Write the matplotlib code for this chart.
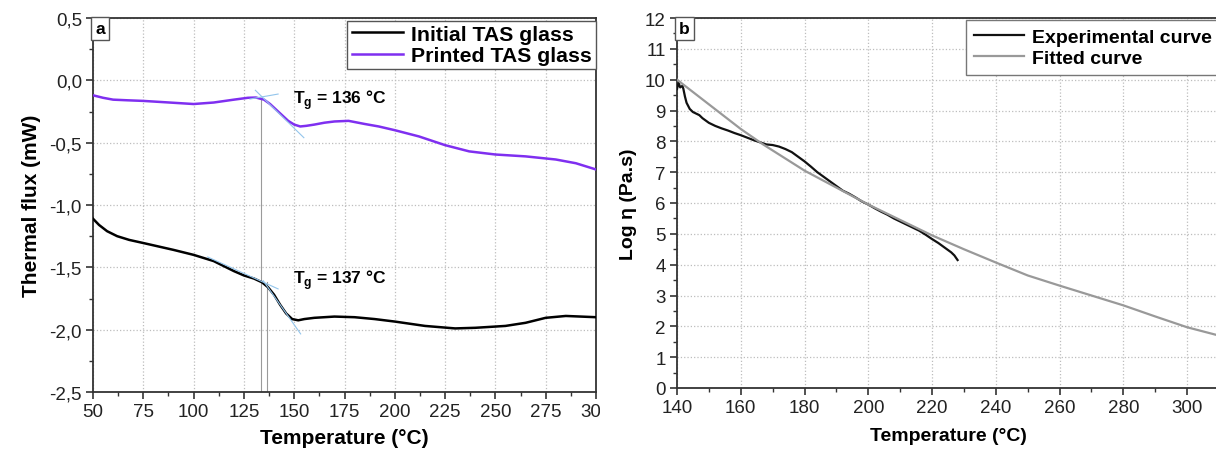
import numpy as np
import matplotlib
matplotlib.use("Agg")
from matplotlib import pyplot as plt
from matplotlib.ticker import MultipleLocator, FuncFormatter
from matplotlib.transforms import Bbox, TransformedBbox

plt.rcParams['font.family'] = ['Liberation Sans', 'DejaVu Sans']
plt.rcParams['mathtext.fontset'] = 'custom'
plt.rcParams['mathtext.rm'] = 'Liberation Sans'
plt.rcParams['mathtext.bf'] = 'Liberation Sans:bold'

# panel a: DSC curves
t_printed = [50, 55, 60, 67, 75, 90, 100, 110, 120, 127, 131, 135, 138, 141, 144, 147,
             150, 153, 156, 160, 165, 170, 177, 185, 192, 200, 212, 225, 237, 250, 265,
             280, 290, 300]
flux_printed = [-0.12, -0.14, -0.155, -0.16, -0.165, -0.18, -0.19, -0.178, -0.155, -0.14,
                -0.138, -0.155, -0.19, -0.235, -0.28, -0.325, -0.355, -0.37, -0.365,
                -0.355, -0.34, -0.33, -0.325, -0.35, -0.37, -0.40, -0.45, -0.52, -0.57,
                -0.595, -0.61, -0.635, -0.665, -0.715]

t_initial = [50, 53, 57, 62, 68, 75, 90, 100, 110, 115, 120, 125, 130, 134, 137, 140, 143,
             146, 149, 152, 155, 160, 170, 180, 190, 200, 215, 230, 240, 255, 265, 275,
             285, 300]
flux_initial = [-1.11, -1.16, -1.21, -1.25, -1.28, -1.305, -1.36, -1.40, -1.45, -1.49,
                -1.53, -1.565, -1.59, -1.62, -1.66, -1.72, -1.80, -1.87, -1.915, -1.925,
                -1.915, -1.905, -1.895, -1.90, -1.915, -1.935, -1.97, -1.99, -1.985,
                -1.97, -1.945, -1.905, -1.89, -1.90]

# onset construction lines
tan_printed = [([128, 142], [-0.15, -0.11]), ([130.7, 154.8], [-0.08, -0.46])]
tan_initial = [([107, 142], [-1.417, -1.673]), ([134.6, 153.2], [-1.607, -2.034])]
tg_lines = [(133.5, -0.15), (136.3, -1.62)]
tg_labels = ['T$_{\\mathbf{g}}$ = 136 °C', 'T$_{\\mathbf{g}}$ = 137 °C']
tg_label_pos = [(149.5, -0.15), (149.5, -1.59)]

# panel b: viscosity
t_exp = [140, 140.5, 141, 141.7, 142, 142.5, 143, 143.5, 144, 145, 146, 147, 148, 150,
         152, 154, 156, 158, 160, 162, 164, 166, 168, 170, 172, 174, 176, 178, 180, 182,
         184, 186, 188, 190, 192, 194, 196, 198, 200, 202, 204, 206, 208, 210, 212, 214,
         216, 218, 220, 222, 224, 226, 227, 228]
visc_exp = [9.7, 9.9, 9.75, 9.8, 9.7, 9.45, 9.25, 9.15, 9.05, 8.95, 8.9, 8.85, 8.75, 8.6,
            8.5, 8.42, 8.35, 8.27, 8.2, 8.12, 8.04, 7.97, 7.9, 7.88, 7.83, 7.75, 7.65, 7.5,
            7.35, 7.18, 7.0, 6.85, 6.7, 6.55, 6.4, 6.3, 6.18, 6.05, 5.95, 5.83, 5.72, 5.62,
            5.5, 5.4, 5.3, 5.2, 5.1, 4.97, 4.83, 4.7, 4.55, 4.4, 4.3, 4.15]
t_fit = [140, 150, 160, 167, 180, 190, 200, 210, 220, 230, 240, 250, 260, 270, 280, 290,
         300, 310]
visc_fit = [10.0, 9.2, 8.4, 7.9, 7.05, 6.5, 5.95, 5.45, 4.95, 4.5, 4.07, 3.65, 3.32, 3.0,
            2.68, 2.32, 1.97, 1.7]

W, H = 1216, 452
fig = plt.figure(figsize=(W / 100, H / 100), dpi=100)
ax1 = fig.add_axes([93 / W, 59 / H, 503 / W, 374 / H])
ax2 = fig.add_axes([677 / W, 63 / H, 542 / W, 370 / H])

comma = FuncFormatter(lambda v, p: f'{v:.1f}'.replace('.', ','))

for ax in (ax1, ax2):
    for s in ax.spines.values():
        s.set_linewidth(1.3)
        s.set_color('#333333')
    ax.tick_params(which='both', direction='out', top=False, right=False, labelsize=13.5,
                   color='#333333', labelcolor='#222222')
    ax.tick_params(which='major', length=5, width=1.2, pad=3)
    ax.tick_params(which='minor', length=3, width=1.0)
    ax.grid(True, which='major', ls=':', color='#bdbdbd', lw=0.9)
    ax.set_axisbelow(True)

# ---- panel a
ax1.plot(t_initial, flux_initial, color='black', lw=1.8, label='Initial TAS glass', zorder=3)
ax1.plot(t_printed, flux_printed, color='#7f2ff0', lw=1.8, label='Printed TAS glass', zorder=3)
for xs, ys in tan_printed + tan_initial:
    ax1.plot(xs, ys, color='#93c5ec', lw=0.8, zorder=4)
for x, ytop in tg_lines:
    ax1.plot([x, x], [ytop, -2.5], color='#9a9a9a', lw=0.8, zorder=2)
for txt, (x, y) in zip(tg_labels, tg_label_pos):
    ax1.text(x, y, txt, fontsize=12.5, fontweight='bold', va='center', ha='left')

ax1.set_xlim(50, 300)
ax1.set_ylim(-2.5, 0.5)
ax1.xaxis.set_major_locator(MultipleLocator(25))
ax1.xaxis.set_minor_locator(MultipleLocator(12.5))
ax1.yaxis.set_major_locator(MultipleLocator(0.5))
ax1.yaxis.set_minor_locator(MultipleLocator(0.25))
ax1.yaxis.set_major_formatter(comma)
ax1.set_xlabel('Temperature (°C)', fontsize=15, fontweight='bold', labelpad=6)
ax1.set_ylabel('Thermal flux (mW)', fontsize=15, fontweight='bold', labelpad=6)
leg1 = ax1.legend(loc='upper right', bbox_to_anchor=(1.0, 0.993), borderaxespad=0,
                  fancybox=False, framealpha=1, edgecolor='#555555',
                  prop={'weight': 'bold', 'size': 15.3}, handlelength=2.4,
                  handletextpad=0.4, labelspacing=0.1, borderpad=0.2)
leg1.get_frame().set_linewidth(1.0)
ax1.text(0.004, 0.992, 'a', transform=ax1.transAxes, ha='left', va='top', fontsize=12.5,
         fontweight='bold', bbox=dict(boxstyle='square,pad=0.25', fc='white', ec='#555555', lw=1))

clip = TransformedBbox(Bbox.from_extents(0, 0, 600 / W, 1), fig.transFigure)
for tk in ax1.xaxis.get_major_ticks():
    tk.label1.set_clip_box(clip)
    tk.label1.set_clip_on(True)

# ---- panel b
ax2.plot(t_exp, visc_exp, color='#111111', lw=1.6, label='Experimental curve', zorder=3)
ax2.plot(t_fit, visc_fit, color='#999999', lw=1.6, label='Fitted curve', zorder=3)
ax2.set_xlim(140, 310)
ax2.set_ylim(0, 12)
ax2.xaxis.set_major_locator(MultipleLocator(20))
ax2.xaxis.set_minor_locator(MultipleLocator(10))
ax2.yaxis.set_major_locator(MultipleLocator(1))
ax2.yaxis.set_minor_locator(MultipleLocator(0.5))
ax2.set_xlabel('Temperature (°C)', fontsize=14, fontweight='bold', labelpad=8)
ax2.set_ylabel('Log η (Pa.s)', fontsize=14, fontweight='bold', labelpad=6)
leg2 = ax2.legend(loc='upper left', bbox_to_anchor=(0.533, 0.994), borderaxespad=0,
                  fancybox=False, framealpha=1, edgecolor='#777777',
                  prop={'weight': 'bold', 'size': 14}, handlelength=2.6,
                  handletextpad=0.4, labelspacing=0.2, borderpad=0.4)
leg2.get_frame().set_linewidth(1.0)
ax2.text(0.004, 0.992, 'b', transform=ax2.transAxes, ha='left', va='top', fontsize=12.5,
         fontweight='bold', bbox=dict(boxstyle='square,pad=0.25', fc='white', ec='#555555', lw=1))

fig.savefig('out.png', dpi=100)
